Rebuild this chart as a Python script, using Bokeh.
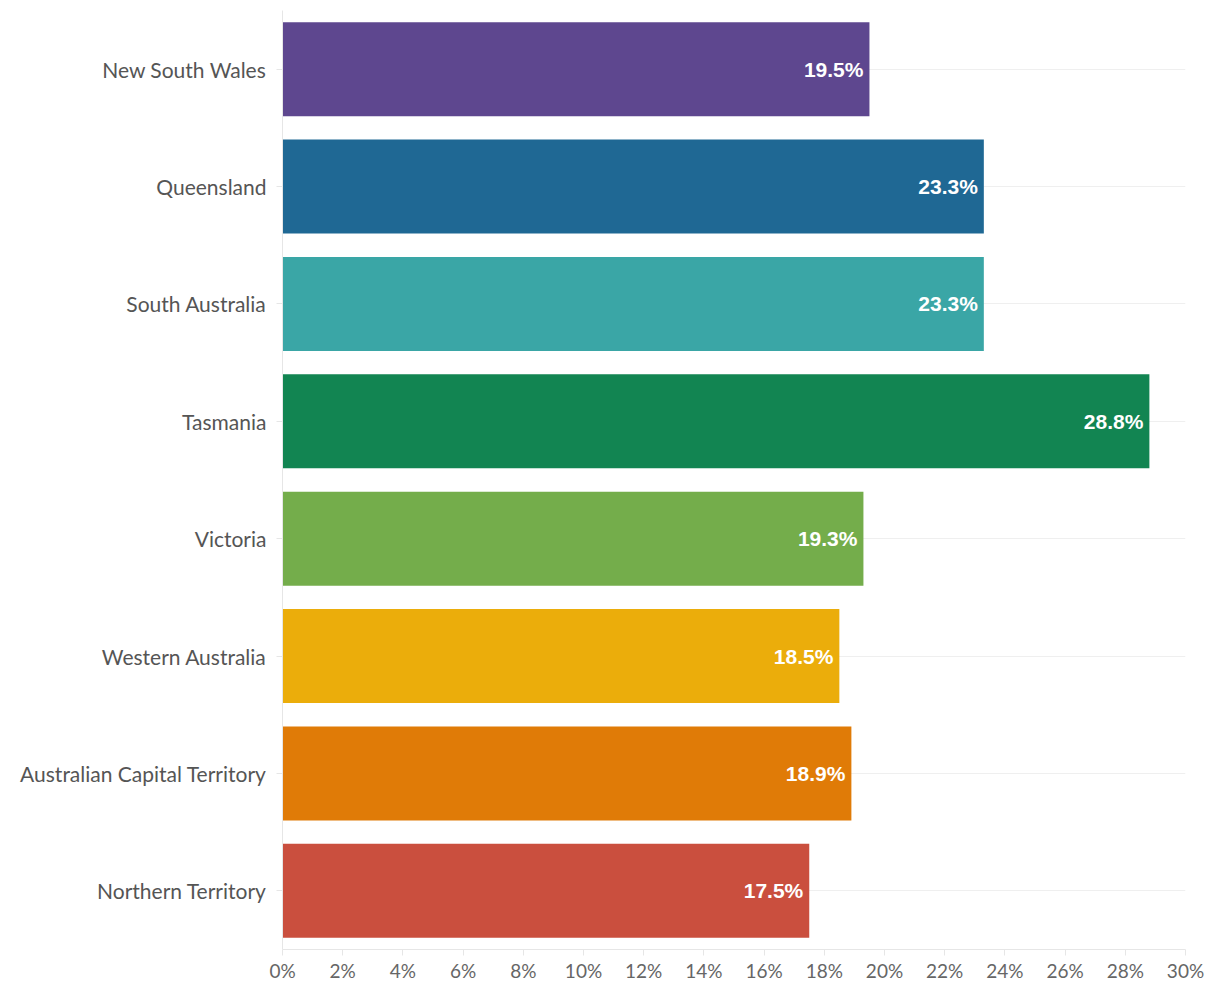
from bokeh.plotting import figure
from bokeh.models import ColumnDataSource, FactorRange, Range1d, FixedTicker
from bokeh.core.properties import value
from bokeh.embed import file_html
from bokeh.resources import INLINE

regions = ["New South Wales", "Queensland", "South Australia", "Tasmania",
           "Victoria", "Western Australia", "Australian Capital Territory",
           "Northern Territory"]
shares = [19.5, 23.3, 23.3, 28.8, 19.3, 18.5, 18.9, 17.5]
colors = ["#5e478f", "#1f6894", "#3aa6a6", "#128552", "#74ad4b", "#ebad0b",
          "#e07b07", "#ca4f3e"]
tick_values = list(range(0, 31, 2))

src = ColumnDataSource(dict(
    region=regions, share=shares, color=colors,
    label=[f"{v:.1f}%" for v in shares],
))

p = figure(width=1209, height=984, output_backend="svg", toolbar_location=None,
           y_range=FactorRange(*list(reversed(regions))),
           x_range=Range1d(0, 30))
p.min_border_left = 282
p.min_border_right = 24
p.min_border_top = 10
p.min_border_bottom = 30
p.outline_line_color = None
p.background_fill_color = "white"

p.hbar(y="region", right="share", left=0, height=0.8, color="color",
       line_color=None, source=src)
p.text(x="share", y="region", text="label", source=src, x_offset=-6,
       text_align="right", text_baseline="middle", text_color="white",
       text_font=value("Liberation Sans"), text_font_style="bold",
       text_font_size="21px")

p.xgrid.grid_line_color = None
p.ygrid.grid_line_color = "#efefef"
p.ygrid.grid_line_width = 1

p.xaxis.ticker = FixedTicker(ticks=tick_values)
p.xaxis.major_label_overrides = {v: f"{v}%" for v in tick_values}
p.xaxis.axis_line_color = "#e6e6e6"
p.xaxis.major_tick_line_color = "#e6e6e6"
p.xaxis.major_tick_out = 6
p.xaxis.major_tick_in = 0
p.xaxis.minor_tick_line_color = None
p.xaxis.major_label_text_font = "Lato"
p.xaxis.major_label_text_font_size = "19px"
p.xaxis.major_label_text_color = "#666666"
p.xaxis.major_label_standoff = 3

p.yaxis.axis_line_color = "#e6e6e6"
p.yaxis.major_tick_line_color = "#e6e6e6"
p.yaxis.major_tick_out = 6
p.yaxis.major_tick_in = 0
p.yaxis.minor_tick_line_color = None
p.yaxis.major_label_text_font = "Lato"
p.yaxis.major_label_text_font_size = "21px"
p.yaxis.major_label_text_color = "#555555"
p.yaxis.major_label_standoff = 10

open("out.html", "w").write(file_html(p, INLINE))
